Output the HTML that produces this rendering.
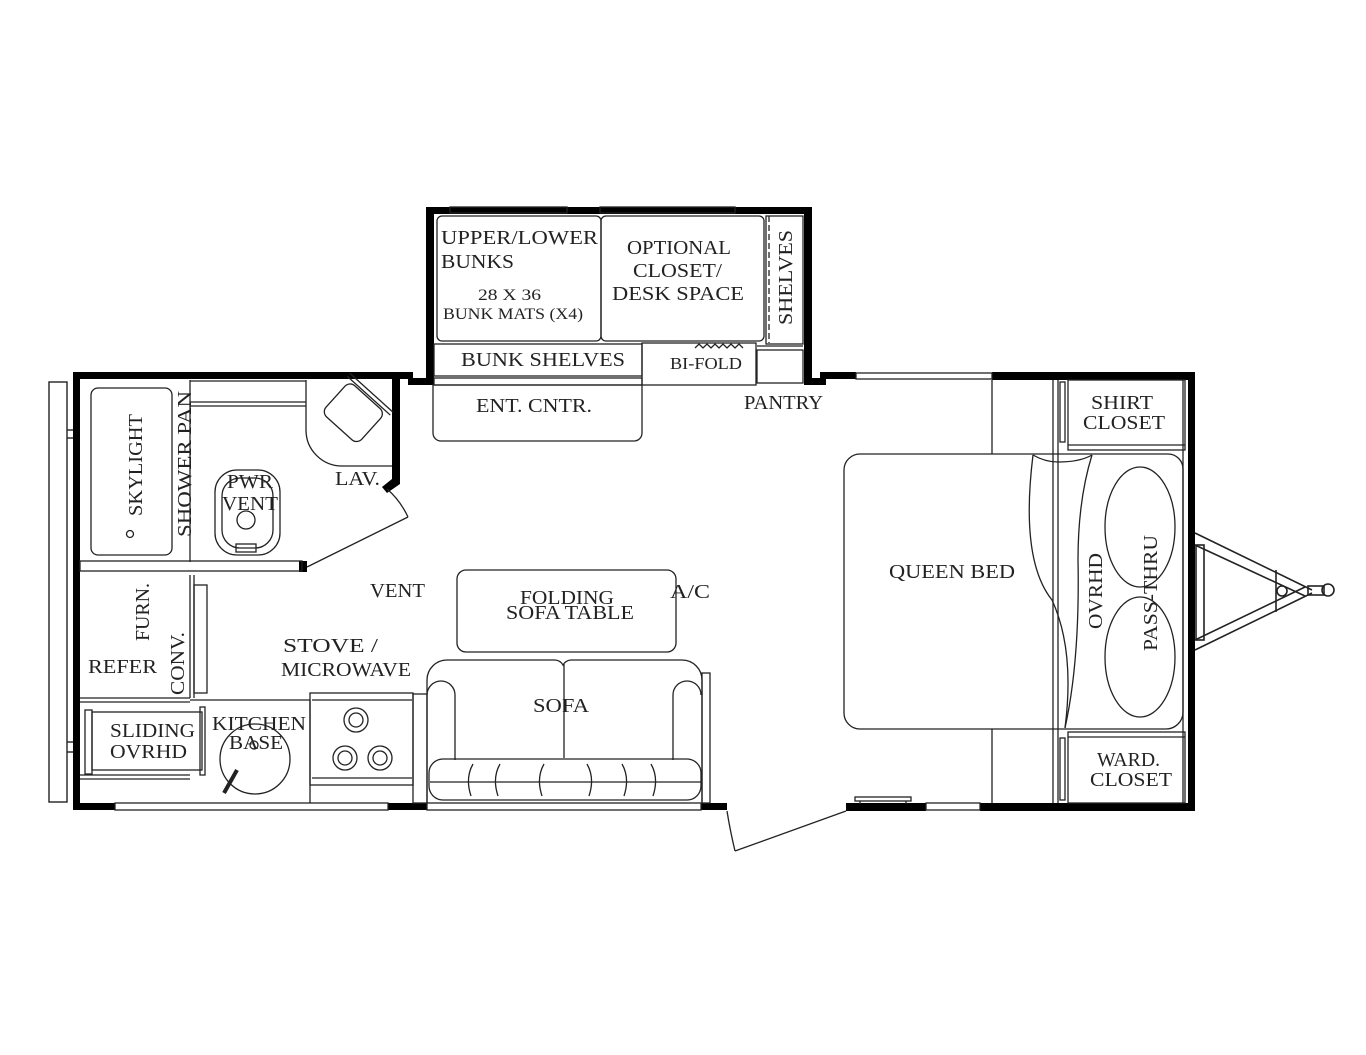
<!DOCTYPE html>
<html><head><meta charset="utf-8"><style>
html,body{margin:0;padding:0;background:#fff;}
svg{display:block;}
text{font-family:"Liberation Serif",serif;fill:#222;}
</style></head><body>
<svg width="1366" height="1055" viewBox="0 0 1366 1055" xmlns="http://www.w3.org/2000/svg">
<g fill="none" stroke="#222" stroke-width="1.4">
<rect x="49" y="382" width="18" height="420"/>
<line x1="67" y1="430" x2="73" y2="430"/><line x1="67" y1="438" x2="73" y2="438"/>
<line x1="67" y1="742" x2="73" y2="742"/><line x1="67" y1="752" x2="73" y2="752"/>
</g>
<g fill="#000">
<rect x="73" y="372" width="7" height="438"/>
<rect x="73" y="372" width="340" height="7"/>
<rect x="392" y="379" width="8" height="100"/>
<polygon points="392,479 400,479 400,484 387,493 382,487"/>
<rect x="408" y="378" width="25" height="7"/>
<rect x="426" y="207" width="8" height="178"/>
<rect x="426" y="207" width="385" height="7"/>
<rect x="804" y="207" width="8" height="178"/>
<rect x="804" y="378" width="22" height="7"/>
<rect x="820" y="372" width="36" height="7"/>
<rect x="992" y="372" width="203" height="8"/>
<rect x="1188" y="372" width="7" height="439"/>
<rect x="73" y="803" width="42" height="7"/>
<rect x="388" y="803" width="39" height="7"/>
<rect x="701" y="803" width="26" height="7"/>
<rect x="846" y="803" width="80" height="8"/>
<rect x="980" y="803" width="215" height="8"/>
<rect x="299" y="561" width="8" height="11"/>
</g>
<g fill="none" stroke="#222" stroke-width="1.3">
<rect x="450" y="207" width="117" height="6"/>
<rect x="600" y="207" width="135" height="6"/>
<rect x="856" y="373" width="136" height="6"/>
<rect x="115" y="803" width="273" height="7"/>
<rect x="427" y="803" width="274" height="7"/>
<rect x="926" y="803" width="54" height="7"/>
<rect x="855" y="797" width="56" height="4"/><line x1="860" y1="801" x2="860" y2="804"/><line x1="906" y1="801" x2="906" y2="804"/>
<rect x="437" y="216" width="164" height="125" rx="5"/>
<rect x="601" y="216" width="163" height="125" rx="5"/>
<rect x="766" y="216" width="37" height="128"/>
<line x1="769" y1="216" x2="769" y2="343" stroke-dasharray="6,3"/>
<rect x="434" y="344" width="208" height="32"/>
<rect x="434" y="378" width="208" height="7"/>
<rect x="642" y="343" width="114" height="42"/>
<rect x="757" y="350" width="46" height="33"/>
<line x1="757" y1="346" x2="803" y2="346"/>
<path d="M433,385 H642 V433 a8,8 0 0 1 -8,8 H441 a8,8 0 0 1 -8,-8 Z"/>
<path d="M695,348 l4,-4 l4,4 l4,-4 l4,4 l4,-4 l4,4 l4,-4 l4,4 l4,-4 l4,4 l4,-4 l4,4"/>
<rect x="91" y="388" width="81" height="167" rx="7"/>
<circle cx="130" cy="534" r="3.5"/>
<line x1="190" y1="380" x2="190" y2="562"/>
<line x1="190" y1="381" x2="306" y2="381"/><line x1="190" y1="402" x2="306" y2="402"/><line x1="190" y1="406" x2="306" y2="406"/>
<path d="M306,380 V430 a36,36 0 0 0 36,36 H392"/>
<g transform="rotate(42 354 412)"><rect x="330" y="392" width="48" height="42" rx="7"/><line x1="325" y1="390" x2="383" y2="390"/><line x1="325" y1="386" x2="383" y2="386"/></g>
<rect x="215" y="470" width="65" height="85" rx="22"/>
<rect x="222" y="478" width="51" height="70" rx="18"/>
<circle cx="246" cy="520" r="9"/>
<rect x="236" y="544" width="20" height="8"/>
<rect x="80" y="561" width="222" height="10"/>
<line x1="307" y1="567" x2="408" y2="517"/>
<path d="M408,517 Q400,500 387,489"/>
<line x1="190" y1="575" x2="190" y2="698"/><line x1="194" y1="575" x2="194" y2="698"/>
<rect x="194" y="585" width="13" height="108"/>
<line x1="80" y1="698" x2="190" y2="698"/><line x1="80" y1="702" x2="190" y2="702"/>
<line x1="190" y1="700" x2="310" y2="700"/>
<rect x="92" y="712" width="110" height="58"/>
<rect x="85" y="710" width="7" height="64"/>
<line x1="80" y1="775" x2="190" y2="775"/><line x1="80" y1="779" x2="190" y2="779"/>
<rect x="200" y="707" width="5" height="68"/>
<line x1="310" y1="700" x2="310" y2="803"/>
<circle cx="255" cy="759" r="35"/>
<circle cx="254" cy="745" r="4"/>
<line x1="237" y1="770" x2="224" y2="793" stroke-width="4"/>
<rect x="310" y="693" width="103" height="92"/>
<line x1="312" y1="700" x2="412" y2="700"/>
<line x1="312" y1="778" x2="412" y2="778"/>
<circle cx="356" cy="720" r="12"/><circle cx="356" cy="720" r="7"/>
<circle cx="345" cy="758" r="12"/><circle cx="345" cy="758" r="7"/>
<circle cx="380" cy="758" r="12"/><circle cx="380" cy="758" r="7"/>
<rect x="413" y="694" width="14" height="109"/>
<rect x="457" y="570" width="219" height="82" rx="9"/>
<path d="M427,803 V680 a20,20 0 0 1 20,-20 H555 a10,10 0 0 1 8,5 a10,10 0 0 1 8,-5 H682 a20,20 0 0 1 20,20 V803"/>
<path d="M427,695 a14,14 0 0 1 28,0 V760"/>
<path d="M701,695 a14,14 0 0 0 -28,0 V760"/>
<line x1="564" y1="664" x2="564" y2="758"/>
<rect x="429" y="759" width="272" height="41" rx="14"/>
<line x1="430" y1="782" x2="701" y2="782"/>
<path d="M473,764 q-8,14 -2,32 M500,764 q-8,14 -2,32 M544,764 q-8,14 -2,32 M587,764 q8,14 2,32 M622,764 q8,14 2,32 M651,764 q8,14 2,32"/>
<rect x="702" y="673" width="8" height="130"/>
<line x1="846" y1="811" x2="735" y2="851"/>
<path d="M735,851 Q730,830 727,811"/>
<line x1="992" y1="380" x2="992" y2="454"/>
<line x1="992" y1="729" x2="992" y2="803"/>
<line x1="1053" y1="380" x2="1053" y2="803"/><line x1="1058" y1="380" x2="1058" y2="803"/>
<rect x="1068" y="380" width="117" height="70"/>
<line x1="1068" y1="445" x2="1185" y2="445"/>
<rect x="1060" y="382" width="5" height="60"/>
<rect x="1068" y="732" width="117" height="71"/>
<line x1="1068" y1="737" x2="1185" y2="737"/>
<rect x="1060" y="738" width="5" height="62"/>
<line x1="1183" y1="380" x2="1183" y2="803"/>
<path d="M844,470 a16,16 0 0 1 16,-16 H1168 a15,15 0 0 1 15,15 V712 a17,17 0 0 1 -17,17 H860 a16,16 0 0 1 -16,-16 Z"/>
<path d="M1033,455 Q1045,462 1058,462 Q1080,462 1092,455"/>
<path d="M1033,455 Q1020,560 1052,600 Q1075,650 1065,728"/>
<path d="M1092,455 Q1078,500 1078,560 Q1080,660 1065,728"/>
<ellipse cx="1140" cy="527" rx="35" ry="60"/>
<ellipse cx="1140" cy="657" rx="35" ry="60"/>
<g stroke-width="1.6">
<line x1="1195" y1="533" x2="1312" y2="590"/>
<line x1="1195" y1="545" x2="1305" y2="596"/>
<line x1="1195" y1="650" x2="1312" y2="593"/>
<line x1="1195" y1="640" x2="1305" y2="587"/>
<rect x="1196" y="545" width="8" height="95"/>
<line x1="1276" y1="570" x2="1276" y2="612"/>
<circle cx="1282" cy="591" r="5"/>
<rect x="1308" y="586" width="16" height="9"/>
<circle cx="1328" cy="590" r="6"/>
</g>
</g>
<g font-size="20" lengthAdjust="spacingAndGlyphs">
<text x="441" y="244" textLength="157" lengthAdjust="spacingAndGlyphs">UPPER/LOWER</text>
<text x="441" y="268" textLength="73" lengthAdjust="spacingAndGlyphs">BUNKS</text>
<text x="478" y="300" font-size="16" textLength="63" lengthAdjust="spacingAndGlyphs">28 X 36</text>
<text x="443" y="319" font-size="16" textLength="140" lengthAdjust="spacingAndGlyphs">BUNK MATS (X4)</text>
<text x="627" y="254" textLength="104" lengthAdjust="spacingAndGlyphs">OPTIONAL</text>
<text x="633" y="277" textLength="89" lengthAdjust="spacingAndGlyphs">CLOSET/</text>
<text x="612" y="300" textLength="132" lengthAdjust="spacingAndGlyphs">DESK SPACE</text>
<text transform="translate(792,325) rotate(-90)" textLength="95" lengthAdjust="spacingAndGlyphs">SHELVES</text>
<text x="461" y="366" textLength="164" lengthAdjust="spacingAndGlyphs">BUNK SHELVES</text>
<text x="670" y="369" font-size="17" textLength="72" lengthAdjust="spacingAndGlyphs">BI-FOLD</text>
<text x="476" y="412" textLength="116" lengthAdjust="spacingAndGlyphs">ENT. CNTR.</text>
<text x="744" y="409" textLength="79" lengthAdjust="spacingAndGlyphs">PANTRY</text>
<text x="335" y="485" textLength="45" lengthAdjust="spacingAndGlyphs">LAV.</text>
<text transform="translate(142,516) rotate(-90)" textLength="102" lengthAdjust="spacingAndGlyphs">SKYLIGHT</text>
<text transform="translate(191,537) rotate(-90)" textLength="146" lengthAdjust="spacingAndGlyphs">SHOWER PAN</text>
<text x="227" y="488" textLength="46" lengthAdjust="spacingAndGlyphs">PWR</text>
<text x="222" y="510" textLength="56" lengthAdjust="spacingAndGlyphs">VENT</text>
<text x="370" y="597" textLength="55" lengthAdjust="spacingAndGlyphs">VENT</text>
<text x="520" y="604" textLength="94" lengthAdjust="spacingAndGlyphs">FOLDING</text>
<text x="506" y="619" textLength="128" lengthAdjust="spacingAndGlyphs">SOFA TABLE</text>
<text x="670" y="598" textLength="40" lengthAdjust="spacingAndGlyphs">A/C</text>
<text x="283" y="652" textLength="95" lengthAdjust="spacingAndGlyphs">STOVE /</text>
<text x="281" y="676" textLength="130" lengthAdjust="spacingAndGlyphs">MICROWAVE</text>
<text transform="translate(149,641) rotate(-90)" textLength="58" lengthAdjust="spacingAndGlyphs">FURN.</text>
<text x="88" y="673" textLength="69" lengthAdjust="spacingAndGlyphs">REFER</text>
<text transform="translate(184,695) rotate(-90)" textLength="63" lengthAdjust="spacingAndGlyphs">CONV.</text>
<text x="110" y="737" textLength="85" lengthAdjust="spacingAndGlyphs">SLIDING</text>
<text x="110" y="758" textLength="77" lengthAdjust="spacingAndGlyphs">OVRHD</text>
<text x="212" y="730" textLength="94" lengthAdjust="spacingAndGlyphs">KITCHEN</text>
<text x="229" y="749" textLength="54" lengthAdjust="spacingAndGlyphs">BASE</text>
<text x="533" y="712" textLength="56" lengthAdjust="spacingAndGlyphs">SOFA</text>
<text x="889" y="578" textLength="126" lengthAdjust="spacingAndGlyphs">QUEEN BED</text>
<text transform="translate(1102,629) rotate(-90)" textLength="76" lengthAdjust="spacingAndGlyphs">OVRHD</text>
<text transform="translate(1157,651) rotate(-90)" textLength="116" lengthAdjust="spacingAndGlyphs">PASS-THRU</text>
<text x="1091" y="409" textLength="62" lengthAdjust="spacingAndGlyphs">SHIRT</text>
<text x="1083" y="429" textLength="82" lengthAdjust="spacingAndGlyphs">CLOSET</text>
<text x="1097" y="766" textLength="63" lengthAdjust="spacingAndGlyphs">WARD.</text>
<text x="1090" y="786" textLength="82" lengthAdjust="spacingAndGlyphs">CLOSET</text>
</g>
</svg>
</body></html>
